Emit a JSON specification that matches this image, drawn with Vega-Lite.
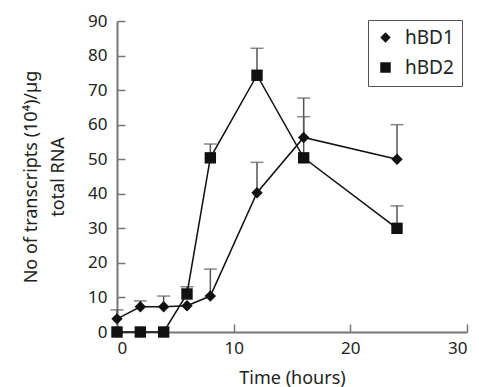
{
  "$schema": "https://vega.github.io/schema/vega-lite/v6.json",
  "width": 350,
  "height": 311,
  "autosize": {"type": "none"},
  "padding": {"left": 117, "top": 21, "right": 12, "bottom": 55},
  "background": "white",
  "config": {
    "font": "Noto Sans",
    "view": {"stroke": null},
    "axis": {
      "grid": false,
      "domainColor": "#777777",
      "domainWidth": 2,
      "tickColor": "#777777",
      "tickWidth": 1.5,
      "labelFontSize": 17,
      "labelColor": "#222222",
      "titleFontSize": 17,
      "titleFontWeight": "normal",
      "titleColor": "#222222",
      "labelFont": "Noto Sans",
      "titleFont": "Noto Sans"
    }
  },
  "data": {
    "values": [
      {"series": "hBD1", "time": 0, "value": 3.8, "upper": 6.4},
      {"series": "hBD1", "time": 2, "value": 7.3, "upper": 9},
      {"series": "hBD1", "time": 4, "value": 7.3, "upper": 10.4},
      {"series": "hBD1", "time": 6, "value": 7.6, "upper": null},
      {"series": "hBD1", "time": 8, "value": 10.4, "upper": 18.2},
      {"series": "hBD1", "time": 12, "value": 40.3, "upper": 49.1},
      {"series": "hBD1", "time": 16, "value": 56.3, "upper": 67.7},
      {"series": "hBD1", "time": 24, "value": 50, "upper": 60},
      {"series": "hBD2", "time": 0, "value": 0, "upper": null},
      {"series": "hBD2", "time": 2, "value": 0, "upper": null},
      {"series": "hBD2", "time": 4, "value": 0, "upper": null},
      {"series": "hBD2", "time": 6, "value": 11, "upper": 13.1},
      {"series": "hBD2", "time": 8, "value": 50.4, "upper": 54.4},
      {"series": "hBD2", "time": 12, "value": 74.3, "upper": 82.1},
      {"series": "hBD2", "time": 16, "value": 50.4, "upper": 62.3},
      {"series": "hBD2", "time": 24, "value": 30, "upper": 36.5}
    ]
  },
  "resolve": {"axis": {"x": "independent", "y": "independent"}},
  "layer": [
    {
      "encoding": {
        "x": {
          "field": "time",
          "type": "quantitative",
          "scale": {"domain": [0, 30], "nice": false, "zero": false},
          "axis": {"values": [0, 10, 20, 30], "title": "Time (hours)", "titleFontWeight": "normal", "titlePadding": 13, "labelPadding": 8, "ticks": false, "titleFontSize": 18}
        },
        "y": {
          "field": "value",
          "type": "quantitative",
          "scale": {"domain": [0, 90], "nice": false},
          "axis": {"values": [0, 10, 20, 30, 40, 50, 60, 70, 80, 90], "title": ["No of transcripts (10⁴)/µg", "total RNA"], "titleFontWeight": "normal", "titleLineHeight": 27, "titleFontSize": 18, "titlePadding": 20, "labelPadding": 10, "ticks": false}
        }
      },
      "layer": [
        {
          "transform": [{"filter": "datum.upper != null"}],
          "mark": {"type": "rule", "color": "#555555", "strokeWidth": 1.5},
          "encoding": {"y2": {"field": "upper"}}
        },
        {
          "transform": [{"filter": "datum.upper != null"}],
          "mark": {"type": "tick", "color": "#555555", "thickness": 1.5, "size": 13, "orient": "horizontal"},
          "encoding": {"y": {"field": "upper", "type": "quantitative"}}
        },
        {
          "mark": {"type": "line", "color": "#111111", "strokeWidth": 1.5},
          "encoding": {"detail": {"field": "series"}}
        },
        {
          "mark": {"type": "point", "filled": true, "opacity": 1, "color": "#111111"},
          "encoding": {
            "shape": {
              "field": "series",
              "type": "nominal",
              "scale": {"domain": ["hBD1", "hBD2"], "range": ["diamond", "square"]},
              "legend": {
                "title": null,
                "orient": "none",
                "legendX": 251,
                "legendY": -1,
                "strokeColor": "#555555",
                "fillColor": "white",
                "padding": 8,
                "rowPadding": 10,
                "labelFontSize": 19,
                "labelFont": "Noto Sans",
                "labelColor": "#222222",
                "symbolSize": 110,
                "symbolFillColor": "#111111",
                "symbolStrokeColor": "#111111",
                "symbolOffset": 0,
                "labelOffset": 10
              }
            },
            "size": {"value": 130}
          }
        }
      ]
    },
    {
      "mark": {"type": "point", "opacity": 0},
      "encoding": {
        "x": {
          "field": "time",
          "type": "quantitative",
          "axis": {"orient": "top", "offset": -311, "values": [0, 10, 20, 30], "labels": false, "domain": false, "title": null, "ticks": true, "tickSize": 8, "tickColor": "#777777", "tickWidth": 1.5}
        },
        "y": {
          "field": "value",
          "type": "quantitative",
          "axis": {"orient": "right", "offset": -350, "values": [0, 10, 20, 30, 40, 50, 60, 70, 80, 90], "labels": false, "domain": false, "title": null, "ticks": true, "tickSize": 8, "tickColor": "#777777", "tickWidth": 1.5}
        }
      }
    }
  ]
}
